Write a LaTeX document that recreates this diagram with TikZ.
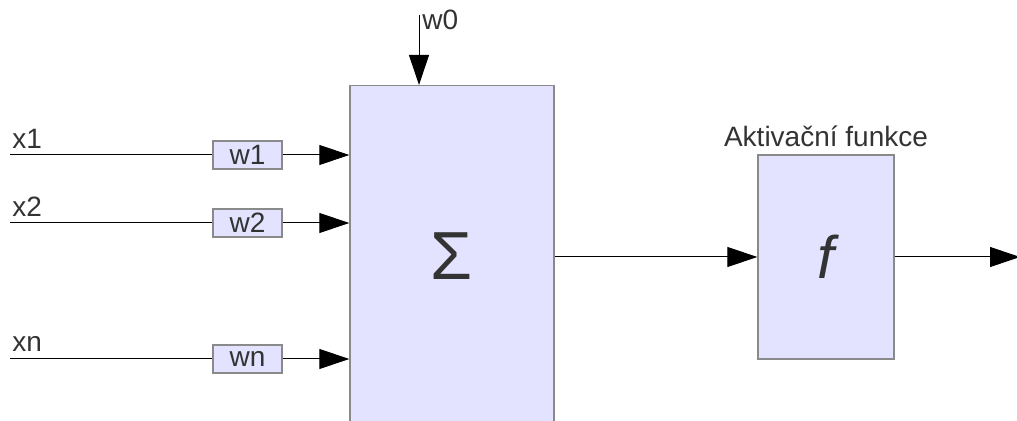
\documentclass[tikz,border=0pt]{standalone}
\usepackage{fontspec}
\setmainfont{Liberation Sans}
\usetikzlibrary{arrows.meta}
\definecolor{boxfill}{HTML}{E3E3FF}
\definecolor{boxline}{HTML}{8A8A8A}
\definecolor{txt}{HTML}{333333}
\tikzset{
  block/.style={draw=boxline, fill=boxfill, line width=0.7pt, inner sep=0pt, text=txt},
  weight/.style={block, minimum width=34.5pt, minimum height=14pt, font=\fontsize{14}{16}\selectfont},
  lbl/.style={text=txt, inner sep=0pt, font=\fontsize{14}{16}\selectfont},
  sig/.style={line width=0.5pt, -{Triangle[length=15pt, width=10pt]}}
}
\begin{document}
\begin{tikzpicture}[x=0.5pt,y=-0.5pt]
\useasboundingbox (0,0) rectangle (1017,421);
\clip (0,0) rectangle (1017,421);
\node[block, anchor=north, minimum width=102pt, minimum height=170pt, font=\fontsize{34}{34}\selectfont] (sum) at (452,85) {Σ};
\node[block, minimum width=68pt, minimum height=102pt, font=\fontsize{30}{30}\selectfont\itshape] (fn) at (826,257) {f};
\node[lbl, anchor=base] (act) at (826,147) {Aktivační funkce};
\node[weight] (w1) at (247.5,155) {w1};
\node[weight] (w2) at (247.5,223) {w2};
\node[weight] (wn) at (247.5,359) {wn};
\coordinate (in1) at (10,155);
\coordinate (in2) at (10,223);
\coordinate (inn) at (10,359);
\node[lbl, anchor=base west] (x1) at (12,149) {x1};
\node[lbl, anchor=base west] (x2) at (12,217) {x2};
\node[lbl, anchor=base west] (xn) at (12,352) {xn};
\coordinate (bias) at (419,15);
\node[lbl, anchor=base west] (w0) at (422,30) {w0};
\coordinate (out) at (1020,257);
\foreach \i in {1,2,n} {
  \draw[line width=0.5pt] (in\i) -- (w\i);
  \draw[sig] (w\i) -- (w\i -| sum.west);
}
\draw[sig] (bias) -- (bias |- sum.north);
\draw[sig] (sum.east |- fn.west) -- (fn.west);
\draw[sig] (fn.east) -- (out);
\end{tikzpicture}
\end{document}
